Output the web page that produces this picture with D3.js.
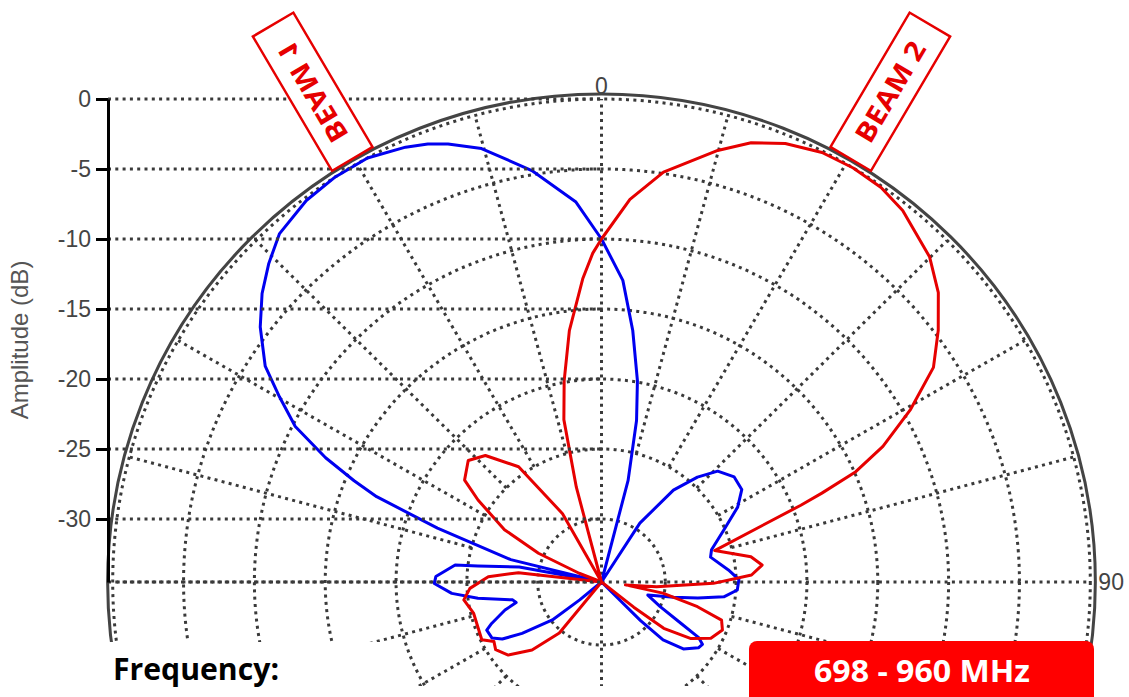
<!DOCTYPE html>
<html>
<head>
<meta charset="utf-8">
<script src="https://cdn.jsdelivr.net/npm/d3@7"></script>
<style>
	html, body { margin: 0; padding: 0; background: #fff; }
	svg { display: block; }
</style>
</head>
<body>
<svg id="polar" width="1129" height="697"></svg>
<script>
// radial axis (dB) and grid
var radialTicks = [0, -5, -10, -15, -20, -25, -30];
var gridRings = [-30, -25, -20, -15, -10, -5, 0];
var spokeStep = 15;
var angleLabels = [0, 90];

// beam 1 (blue): angle in degrees (clockwise from top), amplitude in dB
var beam1Angles = [-135, -129.7, -128, -123.2, -120.2, -117.4, -113, -110.9, -106.4, -103.7, -101.5, -97.6, -94.4, -90.5, -88.1, -83.3, -82.5, -79.6, -78, -76, -71.6, -69, -67.5, -65.5, -62.8, -59.8, -57, -52.9, -49.3, -45.9, -42.4, -37.4, -33, -28.6, -24, -21.4, -19.1, -15.3, -9.5, -3.8, 0, 4, 7, 10, 12.1, 14.5, 17, 28, 32.8, 37.7, 42.1, 46, 51.3, 56.3, 60.9, 66.7, 73.5, 77, 84.5, 89, 93.4, 97, 99.6, 102, 106, 113, 117.7, 120, 122, 124.5, 129.6, 133.6, 135, 138];
var beam1Db = [-35, -32.5, -30.1, -27.8, -26.4, -25.8, -25.7, -26.2, -27.4, -28.3, -28.1, -25.7, -23.9, -22.7, -22.8, -24.1, -25.7, -28.6, -35, -27.9, -22.3, -17.5, -15.6, -13.1, -10.2, -8.2, -6.2, -4.3, -2.9, -1.8, -0.8, -0.2, 0, 0, -0.5, -0.9, -1.4, -2.4, -4.7, -7.3, -10.0, -12.9, -16.4, -19.9, -22.7, -27.0, -35, -35, -29.5, -26.2, -24.4, -23.1, -22.5, -22.6, -23.5, -25.1, -26.4, -26.6, -25.5, -24.8, -24.9, -25.8, -27.6, -29.3, -31.1, -30.0, -28.2, -26.6, -26.1, -26.2, -27.0, -28.5, -30.6, -35];

// beam 2 (red)
var beam2Angles = [-145, -140.7, -134.7, -128.4, -122.9, -119.2, -116, -110.1, -103.8, -97.5, -92.8, -87.3, -83.5, -77, -68.4, -65.2, -61.4, -56.1, -53, -47.3, -42.2, -35.4, -29.4, -22, -14.7, -12.9, -10.4, -7.2, -3.5, -1.5, 0, 4.2, 8.5, 14.9, 18.6, 22.5, 26.9, 31, 35, 38.7, 44.9, 49, 52.9, 56.8, 60.6, 64, 66.3, 67.8, 68.7, 74.3, 80.3, 83.9, 87.3, 90.7, 95, 97, 100.4, 104.6, 107.8, 111.9, 117.5, 122.6, 127, 128.3, 132];
var beam2Db = [-35, -29.8, -27.6, -26.1, -25.6, -25.8, -25.1, -25.2, -25.2, -24.7, -25.2, -26.5, -28.6, -35, -32.8, -29.6, -26.7, -24.0, -22.4, -21.7, -22.3, -24.4, -28.9, -35, -27.5, -22.6, -19.9, -16.4, -12.8, -11.0, -10.0, -7.1, -4.9, -2.6, -1.4, -0.6, -0.1, 0, -0.1, -0.5, -1.7, -3.0, -4.7, -6.5, -9.5, -12.4, -14.9, -17.7, -19.4, -26.2, -23.8, -23.1, -23.9, -26.6, -30.6, -32.8, -30.1, -27.5, -25.6, -25.3, -25.8, -27.0, -29.0, -31.6, -35];

var beamNames = ["BEAM 1", "BEAM 2"];
var beamDirections = [-30.5, 30.5];
var beamColors = ["#0000f0", "#e60000"];
var freqLabel = "Frequency:";
var freqRange = "698 - 960 MHz";

var svg = d3.select("svg#polar"),
	cx = 601.5,
	cy = 582,
	stretch = 1.012,
	gridColor = "#3a3a3a",
	gridWidth = 3,
	dots = "3,4.3";

var rScale = d3.scaleLinear()
	.domain([-34.5, 0])
	.range([0, 483])
	.clamp(true);

var toRad = function(a) { return a * Math.PI / 180; };

svg.append("defs").append("clipPath")
	.attr("id", "plotClip")
	.append("rect")
	.attr("x", 0).attr("y", 0)
	.attr("width", 1129).attr("height", 686);

var polar = svg.append("g")
	.attr("clip-path", "url(#plotClip)")
	.append("g")
	.attr("transform", "translate(" + cx + "," + cy + ") scale(" + stretch + ",1)");

// rings
polar.selectAll("circle.ring")
	.data(gridRings)
	.enter().append("circle")
	.attr("class", "ring")
	.attr("r", function(d) { return rScale(d); })
	.attr("fill", "none")
	.attr("stroke", gridColor)
	.attr("stroke-width", gridWidth)
	.attr("stroke-dasharray", dots)
	.attr("vector-effect", "non-scaling-stroke");

// spokes (the axes through the centre start at 0, the others at the -25 dB ring)
polar.selectAll("line.spoke")
	.data(d3.range(-180, 180, spokeStep))
	.enter().append("line")
	.attr("class", "spoke")
	.attr("x1", function(d) { var r0 = d % 90 === 0 ? 0 : rScale(-25); return r0 * Math.sin(toRad(d)); })
	.attr("y1", function(d) { var r0 = d % 90 === 0 ? 0 : rScale(-25); return -r0 * Math.cos(toRad(d)); })
	.attr("x2", function(d) { return rScale(0) * Math.sin(toRad(d)); })
	.attr("y2", function(d) { return -rScale(0) * Math.cos(toRad(d)); })
	.attr("stroke", gridColor)
	.attr("stroke-width", gridWidth)
	.attr("stroke-dasharray", dots)
	.attr("vector-effect", "non-scaling-stroke");

// outer rim
polar.append("circle")
	.attr("r", rScale(0) + 5)
	.attr("fill", "none")
	.attr("stroke", "#444")
	.attr("stroke-width", 3)
	.attr("vector-effect", "non-scaling-stroke");

// horizontal guides from the amplitude axis to the centre
var yScale = d3.scaleLinear()
	.domain([-34.5, 0])
	.range([cy, cy - rScale(0)]);

svg.selectAll("line.guide")
	.data(radialTicks.concat([-34.5]))
	.enter().append("line")
	.attr("class", "guide")
	.attr("x1", 108).attr("x2", cx)
	.attr("y1", function(d) { return yScale(d); })
	.attr("y2", function(d) { return yScale(d); })
	.attr("stroke", gridColor)
	.attr("stroke-width", gridWidth)
	.attr("stroke-dasharray", dots);

// amplitude axis
var yAxis = svg.append("g")
	.attr("transform", "translate(108,0)")
	.call(d3.axisLeft(yScale)
		.tickValues(radialTicks)
		.tickFormat(d3.format("d"))
		.tickSize(12)
		.tickSizeOuter(0)
		.tickPadding(5));
yAxis.select(".domain").attr("stroke", "#000").attr("stroke-width", 3);
yAxis.selectAll(".tick line").attr("stroke", "#000").attr("stroke-width", 3);
yAxis.selectAll(".tick text")
	.attr("fill", "#444")
	.style("font-family", "'Liberation Sans', Arial, sans-serif")
	.style("font-size", "23px")
	.text(function(d) { return d === 0 ? "0" : String(d); });

svg.append("text")
	.attr("transform", "translate(28,340) rotate(-90)")
	.attr("text-anchor", "middle")
	.attr("fill", "#555")
	.style("font-family", "'Liberation Sans', Arial, sans-serif")
	.style("font-size", "24px")
	.text("Amplitude (dB)");

// angle labels
svg.selectAll("text.angle")
	.data(angleLabels)
	.enter().append("text")
	.attr("class", "angle")
	.attr("x", function(d) { return d === 0 ? cx : cx + (rScale(0) + 5) * stretch + 3; })
	.attr("y", function(d) { return d === 0 ? cy - rScale(0) - 5 : cy + 8; })
	.attr("text-anchor", function(d) { return d === 0 ? "middle" : "start"; })
	.attr("fill", "#444")
	.style("font-family", "'Liberation Sans', Arial, sans-serif")
	.style("font-size", "23px")
	.text(function(d) { return d; });

// patterns
var radial = d3.lineRadial()
	.angle(function(d) { return toRad(d.a); })
	.radius(function(d) { return rScale(d.db); })
	.curve(d3.curveLinear);

var beams = [
	beam1Angles.map(function(a, i) { return { a: a, db: beam1Db[i] }; }),
	beam2Angles.map(function(a, i) { return { a: a, db: beam2Db[i] }; })
];

polar.selectAll("path.beam")
	.data(beams)
	.enter().append("path")
	.attr("class", "beam")
	.attr("d", radial)
	.attr("fill", "none")
	.attr("stroke", function(d, i) { return beamColors[i]; })
	.attr("stroke-width", 3)
	.attr("stroke-linejoin", "round")
	.attr("vector-effect", "non-scaling-stroke");

// beam tags standing on the rim
var tagIn = 491, tagOut = 647, tagW = 47;
var tags = svg.selectAll("g.tag")
	.data(beamNames)
	.enter().append("g")
	.attr("class", "tag")
	.attr("transform", function(d, i) {
		var flip = beamDirections[i] < 0 ? " scale(-1,1)" : "";
		return "translate(" + cx + "," + cy + ")" + flip + " rotate(" + Math.abs(beamDirections[i]) + ")";
	});
tags.append("rect")
	.attr("x", -tagW / 2)
	.attr("y", -tagOut)
	.attr("width", tagW)
	.attr("height", tagOut - tagIn)
	.attr("fill", "#fff")
	.attr("stroke", "#e60000")
	.attr("stroke-width", 2.5);
tags.append("text")
	.attr("transform", "translate(0," + (-(tagIn + tagOut) / 2) + ") rotate(-90)")
	.attr("text-anchor", "middle")
	.attr("dy", "0.36em")
	.attr("fill", "#e60000")
	.attr("textLength", 112)
	.attr("lengthAdjust", "spacingAndGlyphs")
	.style("font-family", "'Open Sans', sans-serif")
	.style("font-weight", "bold")
	.style("font-size", "27px")
	.text(function(d) { return d; });

// footer
svg.append("rect")
	.attr("x", 100).attr("y", 642)
	.attr("width", 280).attr("height", 60)
	.attr("fill", "#fff");
svg.append("text")
	.attr("x", 113).attr("y", 680)
	.attr("fill", "#000")
	.attr("textLength", 166)
	.attr("lengthAdjust", "spacingAndGlyphs")
	.style("font-family", "'Open Sans', sans-serif")
	.style("font-weight", "bold")
	.style("font-size", "30px")
	.text(freqLabel);

svg.append("rect")
	.attr("x", 749).attr("y", 641)
	.attr("width", 345).attr("height", 80)
	.attr("rx", 8)
	.attr("fill", "#ff0000");
svg.append("text")
	.attr("x", 922).attr("y", 682)
	.attr("text-anchor", "middle")
	.attr("fill", "#fff")
	.attr("textLength", 216)
	.attr("lengthAdjust", "spacingAndGlyphs")
	.style("font-family", "'Open Sans', sans-serif")
	.style("font-weight", "bold")
	.style("font-size", "30px")
	.text(freqRange);
</script>
</body>
</html>
